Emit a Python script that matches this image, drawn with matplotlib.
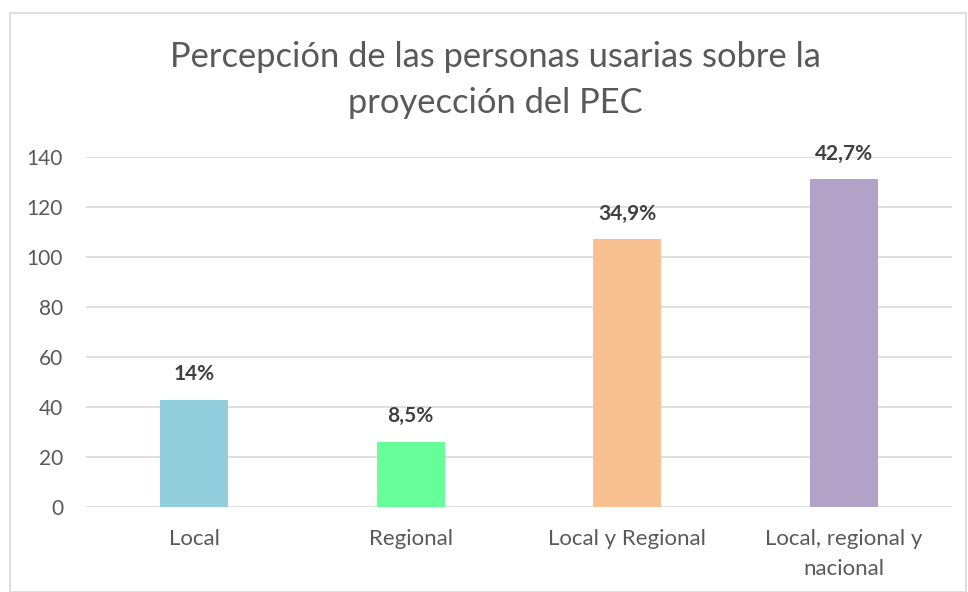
import matplotlib
matplotlib.use("Agg")
import matplotlib.pyplot as plt
from matplotlib.patches import Rectangle

categories = ["Local", "Regional", "Local y Regional", "Local, regional y\nnacional"]
values = [43, 26, 107, 131]
labels = ["14%", "8,5%", "34,9%", "42,7%"]
colors = ["#92CDDC", "#66FF99", "#F9C191", "#B3A2C7"]
yticks = [0, 20, 40, 60, 80, 100, 120, 140]
title_lines = ["Percepción de las personas usarias sobre la", "proyección del PEC"]

plt.rcParams['font.family'] = ['Lato', 'DejaVu Sans']

W, H = 968, 592
fig = plt.figure(figsize=(W / 100, H / 100), dpi=100)
fig.patch.set_facecolor("white")

# chart border
fig.add_artist(Rectangle((10 / W, 0.5 / H), (W - 12) / W, (H - 13) / H,
                         transform=fig.transFigure, fill=False,
                         edgecolor="#D9D9D9", linewidth=1.2))

ax = fig.add_axes([86 / W, (H - 507) / H, (952 - 86) / W, (507 - 157) / H])
x = range(len(categories))
ax.bar(x, values, width=0.314, color=colors, zorder=3)
ax.set_xlim(-0.5, len(categories) - 0.5)
ax.set_ylim(0, 140)
ax.set_yticks(yticks)
ax.set_yticklabels([str(v) for v in yticks], fontsize=15, color="#595959")
ax.set_xticks(list(x))
ax.set_xticklabels(categories, fontsize=16, color="#595959", linespacing=1.6)
ax.tick_params(axis="both", length=0)
ax.tick_params(axis="y", pad=16.5)
ax.tick_params(axis="x", pad=16)
ax.grid(axis="y", color="#D9D9D9", linewidth=1.2, zorder=0)
for s in ax.spines.values():
    s.set_visible(False)

for xi, v, lab in zip(x, values, labels):
    ax.annotate(lab, (xi, v), xytext=(0, 18.5), textcoords="offset points",
                ha="center", va="center", fontsize=15, fontweight="bold",
                color="#404040")

fig.text(495 / W, (H - 67) / H, title_lines[0],
         ha="center", va="baseline", fontsize=24.8, color="#595959")
fig.text(495 / W, (H - 113) / H, title_lines[1],
         ha="center", va="baseline", fontsize=24.8, color="#595959")

fig.savefig("out.png", dpi=100, facecolor="white")
